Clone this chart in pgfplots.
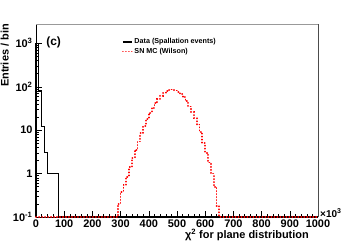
\documentclass[border=0pt]{standalone}
\usepackage{fontspec}
\setmainfont{Liberation Sans}
\usepackage{pgfplots}
\pgfplotsset{compat=1.18}
\definecolor{rootred}{RGB}{255,0,0}
\begin{document}
\begin{tikzpicture}
\begin{axis}[name=ax, scale only axis, width=282bp, height=193bp,
  xmin=0, xmax=1000, ymin=0.1, ymax=2780, ymode=log,
  axis lines=left, axis line style={-, black, line width=0.7pt},
  xtick={0,100,200,300,400,500,600,700,800,900,1000},
  xticklabels={0,100,200,300,400,500,600,700,800,900,1000},
  minor x tick num=4,
  ytick={0.1,1,10,100,1000},
  yticklabels={10\textsuperscript{-1},1,10,10\textsuperscript{2},10\textsuperscript{3}},
  tick align=inside, major tick length=6bp, minor tick length=3bp,
  tick style={black, line width=0.4pt},
  /pgf/number format/assume math mode=true,
  tick label style={font=\fontsize{11}{12}\selectfont\bfseries},
  xticklabel style={yshift=1bp},
  clip=false,
  legend style={at={(rel axis cs:0.305,0.935)}, anchor=north west, draw=none, fill=none,
    font=\fontsize{7.2}{8}\selectfont\bfseries, inner sep=0pt, row sep=-1.5pt,
    /tikz/every even column/.append style={column sep=6bp}},
  legend cell align=left,
  legend image code/.code={\draw[#1, line width=1.3pt] (0bp,0bp) -- (9bp,0bp);},
]
\addplot[const plot, draw=black, line width=1.3pt] coordinates {
 (0,0.1) (0,1000) (10,80) (20,12) (30,3) (40,1) (80,0.1) (1000,0.1)};
\addlegendentry{Data (Spallation events)}
\addplot[const plot, draw=rootred, color=rootred, line width=1.8pt, line cap=round, dash pattern=on 0.2pt off 2.8pt] coordinates {
 (0,0.1) (290,0.2) (300,0.38) (310,0.55) (320,0.85) (330,1.4) (340,2.3) (350,3.5)
 (360,5.5) (370,8.5) (380,12.5) (390,18) (400,25) (410,33) (420,42) (430,52)
 (440,62) (450,72) (460,79) (470,84) (480,86) (490,82) (500,76) (510,68)
 (520,57) (530,46) (540,35) (550,26) (560,19) (570,13.5) (580,9) (590,5)
 (600,3) (610,1.8) (620,1) (630,0.5) (640,0.18) (650,0.1) (1000,0.1)};
\addlegendentry{SN MC (Wilson)}
\draw[gray!80, line width=0.7pt] (rel axis cs:0,1) -- (rel axis cs:1,1);
\draw[black!70, line width=0.7pt] (rel axis cs:1,0) -- (rel axis cs:1,1);
\node[anchor=north west, inner sep=0pt, font=\fontsize{12}{13}\selectfont\bfseries]
  at (rel axis cs:0.036,0.934) {(c)};
\end{axis}
\node[anchor=base east, inner sep=0pt, font=\fontsize{11}{12}\selectfont\bfseries]
  at ([shift={(-9bp,-21bp)}]ax.south east) {χ\textsuperscript{2} for plane distribution};
\node[anchor=base west, inner sep=0pt, font=\fontsize{10}{12}\selectfont\bfseries]
  at ([shift={(2bp,0bp)}]ax.south east) {×10\textsuperscript{3}};
\node[anchor=south east, rotate=90, inner sep=0pt, font=\fontsize{11}{12}\selectfont\bfseries]
  at ([shift={(-27bp,0bp)}]ax.north west) {Entries / bin};
\pgfresetboundingbox
\path[use as bounding box] ([shift={(-36bp,-24bp)}]ax.south west) rectangle ([shift={(36bp,24bp)}]ax.north east);
\end{tikzpicture}
\end{document}
